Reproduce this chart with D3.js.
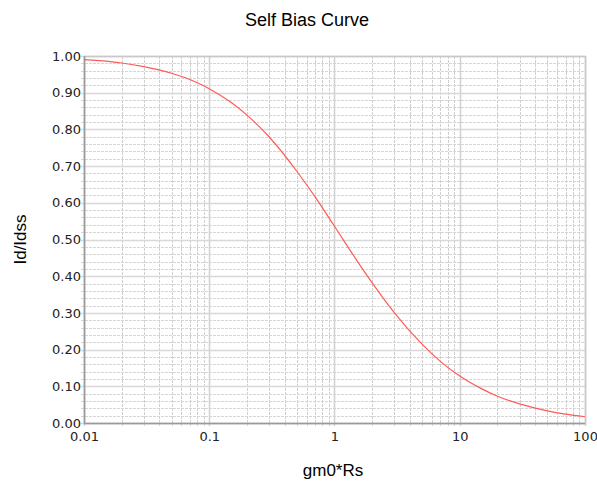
<!DOCTYPE html>
<html>
<head>
<meta charset="utf-8">
<script src="https://cdn.jsdelivr.net/npm/d3@7"></script>
<style>
  body { margin: 0; background: #fff; }
  svg { display: block; }
</style>
</head>
<body>
<script>
// values
const gmRs = [0.01, 0.02, 0.03, 0.05, 0.07, 0.1, 0.15, 0.2, 0.3, 0.5, 0.7, 1,
  1.5, 2, 3, 5, 7, 10, 15, 20, 30, 50, 70, 100];
const idRatio = [0.990, 0.981, 0.971, 0.953, 0.936, 0.911, 0.873, 0.839, 0.780,
  0.686, 0.616, 0.536, 0.444, 0.382, 0.301, 0.215, 0.168, 0.128, 0.093, 0.073,
  0.052, 0.033, 0.024, 0.017];
const xTicks = [0.01, 0.1, 1, 10, 100];
const yTicks = [0, 0.1, 0.2, 0.3, 0.4, 0.5, 0.6, 0.7, 0.8, 0.9, 1.0];

const width = 597, height = 482;
const margin = { top: 56, right: 12, bottom: 59, left: 84 };

const svg = d3.select("body").append("svg")
  .attr("width", width)
  .attr("height", height);

const x = d3.scaleLog()
  .domain([0.01, 100])
  .range([margin.left, width - margin.right]);
const y = d3.scaleLinear()
  .domain([0, 1])
  .range([height - margin.bottom, margin.top]);

const x0 = x.range()[0], x1 = x.range()[1];
const y0 = y.range()[0], y1 = y.range()[1];

// minor grid (dashed)
const minorX = [];
for (let d = 0.01; d < 100; d *= 10) {
  for (let k = 2; k <= 9; k++) minorX.push(+(d * k).toPrecision(3));
}
const minorY = d3.range(0, 1.0001, 0.02).filter((v) => Math.round(v * 50) % 5 !== 0);

const grid = svg.append("g");
grid.selectAll(".mx").data(minorX).enter().append("line")
  .attr("x1", (d) => Math.round(x(d)) + 0.5).attr("x2", (d) => Math.round(x(d)) + 0.5)
  .attr("y1", y1).attr("y2", y0 + 3)
  .attr("stroke", "#cfcfcf").attr("stroke-dasharray", "3,1");
grid.selectAll(".my").data(minorY).enter().append("line")
  .attr("x1", x0 - 3).attr("x2", x1)
  .attr("y1", (d) => Math.round(y(d)) + 0.5).attr("y2", (d) => Math.round(y(d)) + 0.5)
  .attr("stroke", "#d6d6d6").attr("stroke-dasharray", "3,1");

// major grid
grid.selectAll(".Mx").data(xTicks).enter().append("line")
  .attr("x1", (d) => Math.round(x(d)) + 0.5).attr("x2", (d) => Math.round(x(d)) + 0.5)
  .attr("y1", y1).attr("y2", y0 + 3)
  .attr("stroke", "#d0d0d0").attr("stroke-width", 1.5);
grid.selectAll(".My").data(yTicks).enter().append("line")
  .attr("x1", x0 - 3).attr("x2", x1)
  .attr("y1", (d) => Math.round(y(d)) + 0.5).attr("y2", (d) => Math.round(y(d)) + 0.5)
  .attr("stroke", "#d8d8d8").attr("stroke-width", 1.5);

// frame
svg.append("rect")
  .attr("x", x0 + 0.5).attr("y", y1 + 0.5)
  .attr("width", x1 - x0).attr("height", y0 - y1)
  .attr("fill", "none").attr("stroke", "#c8c8c8").attr("stroke-width", 1.5);
svg.append("path")
  .attr("d", `M${x0 + 0.5},${y1}V${y0 + 0.5}H${x1}`)
  .attr("fill", "none").attr("stroke", "#9a9a9a").attr("stroke-width", 1.5);

// axes (labels only, lines drawn above)
const xAxis = svg.append("g")
  .attr("transform", `translate(0,${y0})`)
  .call(d3.axisBottom(x).tickValues(xTicks).tickSize(0).tickPadding(9)
    .tickFormat((d) => String(d)));
const yAxis = svg.append("g")
  .attr("transform", `translate(${x0},0)`)
  .call(d3.axisLeft(y).tickValues(yTicks).tickSize(0).tickPadding(3)
    .tickFormat(d3.format(".2f")));
[xAxis, yAxis].forEach((g) => {
  g.select(".domain").remove();
  g.selectAll("text")
    .attr("fill", "#222")
    .style("font-family", "DejaVu Sans, Tahoma, sans-serif")
    .style("font-size", "13px");
});

// curve
const pts = gmRs.map((v, i) => [v, idRatio[i]]);
const line = d3.line()
  .x((d) => x(d[0]))
  .y((d) => y(d[1]))
  .curve(d3.curveMonotoneX);
svg.append("path")
  .datum(pts)
  .attr("d", line)
  .attr("fill", "none")
  .attr("stroke", "#ff5a5a")
  .attr("stroke-width", 1.2);

// title and axis titles
svg.append("text")
  .attr("x", 307).attr("y", 26)
  .attr("text-anchor", "middle")
  .style("font-family", "Liberation Sans, Arial, sans-serif")
  .style("font-size", "18px")
  .text("Self Bias Curve");
svg.append("text")
  .attr("x", 333).attr("y", 476)
  .attr("text-anchor", "middle")
  .style("font-family", "Liberation Sans, Arial, sans-serif")
  .style("font-size", "17px")
  .text("gm0*Rs");
svg.append("text")
  .attr("transform", `translate(26,${(y0 + y1) / 2}) rotate(-90)`)
  .attr("text-anchor", "middle")
  .style("font-family", "Liberation Sans, Arial, sans-serif")
  .style("font-size", "17px")
  .text("Id/Idss");
</script>
</body>
</html>
